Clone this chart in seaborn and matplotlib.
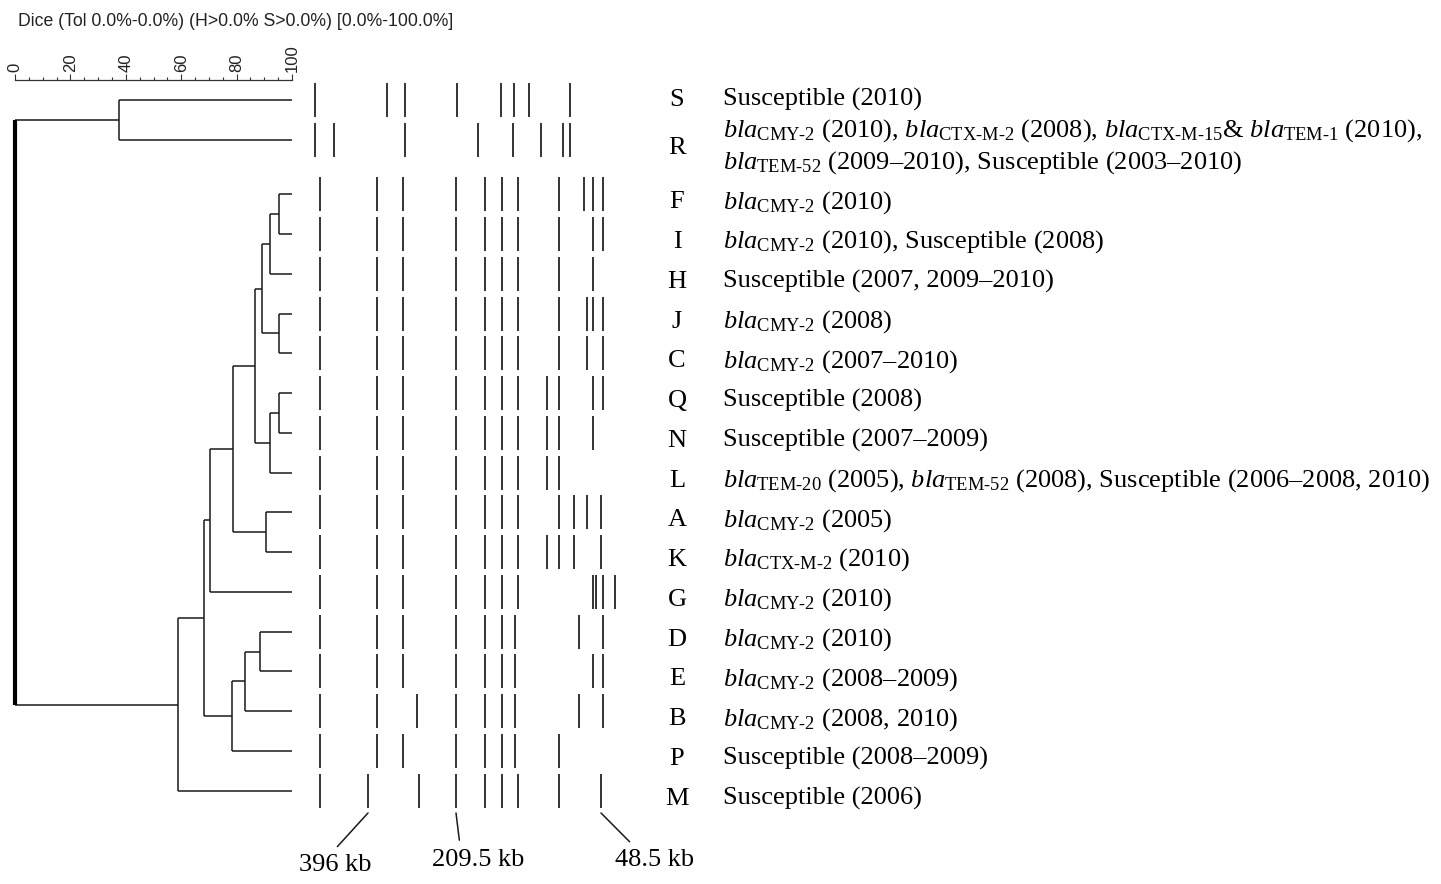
import numpy as np
import pandas as pd
import matplotlib
matplotlib.use("Agg")
import matplotlib.pyplot as plt
import seaborn as sns

# ---------------- data ----------------
isolates = ["S", "R", "F", "I", "H", "J", "C", "Q", "N", "L",
            "A", "K", "G", "D", "E", "B", "P", "M"]

# PFGE band migration positions (gel units) per pulsotype lane
bands_S = [15, 87, 105, 157, 201, 214, 229, 270]
bands_R = [15, 34, 105, 178, 213, 241, 263, 270]
bands_F = [20, 77, 103, 156, 185, 202, 218, 259, 284, 293, 303]
bands_I = [20, 77, 103, 156, 185, 202, 218, 259, 293, 303]
bands_H = [20, 77, 103, 156, 185, 202, 218, 259, 293]
bands_J = [20, 77, 103, 156, 185, 202, 218, 259, 287, 293, 303]
bands_C = [20, 77, 103, 156, 185, 202, 218, 259, 287, 303]
bands_Q = [20, 77, 103, 156, 185, 202, 218, 247, 259, 293, 303]
bands_N = [20, 77, 103, 156, 185, 202, 218, 247, 259, 293]
bands_L = [20, 77, 103, 156, 185, 202, 218, 247, 259]
bands_A = [20, 77, 103, 156, 185, 202, 218, 259, 274, 287, 301]
bands_K = [20, 77, 103, 156, 185, 202, 218, 247, 259, 274, 301]
bands_G = [20, 77, 103, 156, 185, 202, 218, 293, 295.5, 303, 315]
bands_D = [20, 77, 103, 156, 185, 202, 215, 279, 303]
bands_E = [20, 77, 103, 156, 185, 202, 215, 293, 303]
bands_B = [20, 77, 117, 156, 185, 202, 215, 279, 303]
bands_P = [20, 77, 103, 156, 185, 202, 215, 259]
bands_M = [20, 68, 119, 156, 185, 202, 218, 259, 301]

# UPGMA merges (Dice similarity, %)
merges = [
    ("n1", "F", "I", 95.2),
    ("n2", "n1", "H", 92.1),
    ("n3", "J", "C", 95.2),
    ("n4", "n2", "n3", 89.2),
    ("n5", "Q", "N", 95.2),
    ("n6", "n5", "L", 92.1),
    ("n7", "n4", "n6", 86.8),
    ("n8", "A", "K", 90.6),
    ("n9", "n7", "n8", 78.6),
    ("n10", "n9", "G", 70.3),
    ("n11", "D", "E", 88.6),
    ("n12", "n11", "B", 83.1),
    ("n13", "n12", "P", 78.2),
    ("n14", "n10", "n13", 68.2),
    ("n15", "n14", "M", 58.7),
    ("n16", "S", "R", 37.4),
    ("root", "n16", "n15", 0.0),
]

descriptions = [
    ["Susceptible (2010)"],
    [r"$\mathit{bla}_{\text{CMY-2}}$ (2010), $\mathit{bla}_{\text{CTX-M-2}}$ (2008), "
     r"$\mathit{bla}_{\text{CTX-M-15}}$& $\mathit{bla}_{\text{TEM-1}}$ (2010),",
     r"$\mathit{bla}_{\text{TEM-52}}$ (2009–2010), Susceptible (2003–2010)"],
    [r"$\mathit{bla}_{\text{CMY-2}}$ (2010)"],
    [r"$\mathit{bla}_{\text{CMY-2}}$ (2010), Susceptible (2008)"],
    ["Susceptible (2007, 2009–2010)"],
    [r"$\mathit{bla}_{\text{CMY-2}}$ (2008)"],
    [r"$\mathit{bla}_{\text{CMY-2}}$ (2007–2010)"],
    ["Susceptible (2008)"],
    ["Susceptible (2007–2009)"],
    [r"$\mathit{bla}_{\text{TEM-20}}$ (2005), $\mathit{bla}_{\text{TEM-52}}$ (2008), "
     r"Susceptible (2006–2008, 2010)"],
    [r"$\mathit{bla}_{\text{CMY-2}}$ (2005)"],
    [r"$\mathit{bla}_{\text{CTX-M-2}}$ (2010)"],
    [r"$\mathit{bla}_{\text{CMY-2}}$ (2010)"],
    [r"$\mathit{bla}_{\text{CMY-2}}$ (2010)"],
    [r"$\mathit{bla}_{\text{CMY-2}}$ (2008–2009)"],
    [r"$\mathit{bla}_{\text{CMY-2}}$ (2008, 2010)"],
    ["Susceptible (2008–2009)"],
    ["Susceptible (2006)"],
]

marker_labels = ["396 kb", "209.5 kb", "48.5 kb"]
marker_bands = [68, 156, 301]          # bands of lane M used as size markers

title = "Dice (Tol 0.0%-0.0%) (H>0.0% S>0.0%) [0.0%-100.0%]"
scale_ticks = [0, 20, 40, 60, 80, 100]

# ---------------- style ----------------
sns.set_theme(style="white")
plt.rcParams["font.family"] = ["Liberation Serif", "DejaVu Serif"]
plt.rcParams["mathtext.fontset"] = "custom"
plt.rcParams["mathtext.rm"] = "Liberation Serif"
plt.rcParams["mathtext.it"] = "Liberation Serif:italic"
plt.rcParams["mathtext.bf"] = "Liberation Serif:bold"

W, H = 1441, 884
fig = plt.figure(figsize=(W / 100, H / 100), dpi=100)
fig.patch.set_facecolor("white")

n = len(isolates)
idx = np.arange(n)
row_y = idx + np.where(idx >= 2, 0.372, 0.0)
YLIM = (19.718, -2.515)
ink = "#1a1a1a"

# ---------------- dendrogram ----------------
ax_d = fig.add_axes([15 / W, 0, 277 / W, 1])
ax_d.set_xlim(0, 100)
ax_d.set_ylim(*YLIM)
ax_d.axis("off")
pos = {name: (100.0, y) for name, y in zip(isolates, row_y)}
for name, a, b, s in merges:
    xa, ya = pos[a]
    xb, yb = pos[b]
    ax_d.plot([xa, s], [ya, ya], color=ink, lw=1.1, clip_on=False, solid_capstyle="butt")
    ax_d.plot([xb, s], [yb, yb], color=ink, lw=1.1, clip_on=False, solid_capstyle="butt")
    ax_d.plot([s, s], [ya, yb], color="black" if name == "root" else ink,
              lw=3.0 if name == "root" else 1.1, clip_on=False, solid_capstyle="butt")
    pos[name] = (s, (ya + yb) / 2)

# scale ruler
ax_r = fig.add_axes([15 / W, 1 - 80 / H, 277 / W, 1e-5])
ax_r.set_xlim(0, 100)
for sp in ["left", "right", "bottom"]:
    ax_r.spines[sp].set_visible(False)
ax_r.spines["top"].set_visible(True)
ax_r.spines["top"].set_color("#333333")
ax_r.spines["top"].set_linewidth(0.9)
ax_r.set_yticks([])
ax_r.xaxis.set_ticks_position("top")
ax_r.xaxis.set_label_position("top")
ax_r.set_xticks(scale_ticks)
ax_r.set_xticks(np.arange(0, 101, 5), minor=True)
ax_r.set_xticklabels([str(t) for t in scale_ticks], rotation=90,
                     fontfamily="Liberation Sans", fontsize=12, color="#222222")
ax_r.tick_params(axis="x", which="major", direction="out", length=4.5, width=0.8,
                 pad=1.5, color="#333333", top=True, bottom=False)
ax_r.tick_params(axis="x", which="minor", direction="out", length=2.0, width=0.8,
                 color="#333333", top=True, bottom=False)

# ---------------- gel bands ----------------
lanes = [bands_S, bands_R, bands_F, bands_I, bands_H, bands_J, bands_C, bands_Q,
         bands_N, bands_L, bands_A, bands_K, bands_G, bands_D, bands_E, bands_B,
         bands_P, bands_M]
df = pd.DataFrame([(iso, p, y) for iso, lane, y in zip(isolates, lanes, row_y) for p in lane],
                  columns=["isolate", "migration", "y"])
ax_b = fig.add_axes([300 / W, 0, 330 / W, 1])
sns.scatterplot(data=df, x="migration", y="y", marker="|", s=25 ** 2, linewidth=1.25,
                color=ink, legend=False, ax=ax_b)
ax_b.set_xlim(0, 330)
ax_b.set_ylim(*YLIM)
ax_b.axis("off")

text_offsets = [(-33, -52, 0.44), (22, -47, 0.31), (54, -47, 0.27)]
for lab, bx, (dx, dy, rx) in zip(marker_labels, marker_bands, text_offsets):
    ax_b.annotate(lab, xy=(bx, row_y[-1] + 0.56), xytext=(dx, dy),
                  textcoords="offset pixels", ha="center", va="center",
                  fontsize=19, color="black", annotation_clip=False,
                  arrowprops=dict(arrowstyle="-", lw=1.1, color=ink,
                                  relpos=(rx, 1.0), shrinkA=4, shrinkB=0))

# ---------------- labels ----------------
ax_t = fig.add_axes([650 / W, 0, (W - 650) / W, 1])
ax_t.set_xlim(650, W)
ax_t.set_ylim(*YLIM)
ax_t.axis("off")
for i, (iso, y, desc) in enumerate(zip(isolates, row_y, descriptions)):
    if len(desc) == 1:
        dy = 0.14 if i == 0 else 0.35
        ax_t.text(677, y + dy, iso, ha="center", va="baseline", fontsize=19, color="black")
        ax_t.text(723, y + dy, desc[0], ha="left", va="baseline", fontsize=19, color="black")
    else:
        ax_t.text(677, y + 0.35, iso, ha="center", va="baseline", fontsize=19, color="black")
        ax_t.text(723, y - 0.08, desc[0], ha="left", va="baseline", fontsize=19, color="black")
        ax_t.text(723, y + 0.72, desc[1], ha="left", va="baseline", fontsize=19, color="black")

fig.text(18 / W, 1 - 21 / H, title, ha="left", va="center",
         fontfamily="Liberation Sans", fontsize=12.7, color="#222222")

fig.savefig("out.png", dpi=100, facecolor="white")
